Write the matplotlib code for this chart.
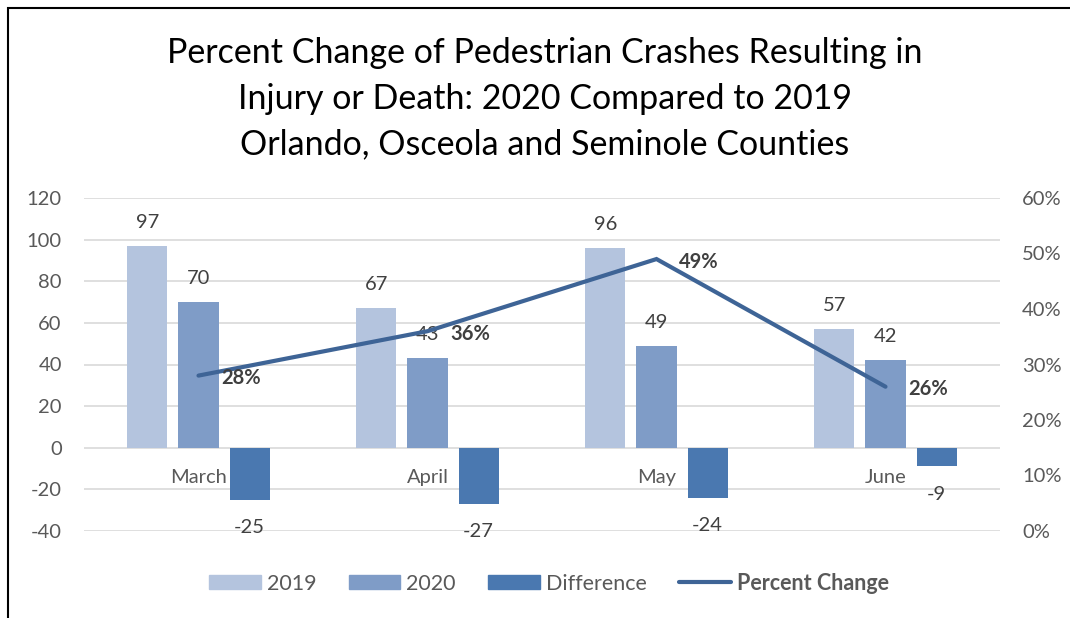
import matplotlib
matplotlib.use("Agg")
import matplotlib.pyplot as plt
from matplotlib.patches import Rectangle
from matplotlib.lines import Line2D
from matplotlib.ticker import FuncFormatter
import numpy as np

months = ["March", "April", "May", "June"]
v2019 = [97, 67, 96, 57]
v2020 = [70, 43, 49, 42]
diff = [-25, -27, -24, -9]
pct_change = [0.28, 0.36, 0.49, 0.26]
left_ticks = [-40, -20, 0, 20, 40, 60, 80, 100, 120]
right_ticks = [0.0, 0.1, 0.2, 0.3, 0.4, 0.5, 0.6]
series_names = ["2019", "2020", "Difference", "Percent Change"]

c2019 = "#B4C4DE"
c2020 = "#7F9CC7"
cdiff = "#4A78B0"
cline = "#3E6496"
gray = "#595959"
FONT = "Lato"

plt.rcParams["font.family"] = [FONT, "DejaVu Sans"]
plt.rcParams["axes.unicode_minus"] = False

fig = plt.figure(figsize=(10.7, 6.18), dpi=100)
ax = fig.add_axes([84/1070, 1-531/618, (1000-84)/1070, (531-198)/618])
ax2 = ax.twinx()

FS = 14.5
x = np.arange(len(months))
bw = 0.175
step = 0.223
series = [(v2019, c2019), (v2020, c2020), (diff, cdiff)]
for i, (vals, col) in enumerate(series):
    xs = x + (i-1)*step
    ax.bar(xs, vals, width=bw, color=col, zorder=2)
    for xi, v in zip(xs, vals):
        off = 17 if v >= 0 else -20
        ax.annotate(f"{v}", (xi, v), xytext=(0, off), textcoords="offset points",
                    ha="center", va="center", fontsize=FS, color="#404040")

ax.set_xlim(-0.5, len(months)-0.5)
ax.set_ylim(-40, 120)
ax.set_yticks(left_ticks)
ax.grid(axis="y", color="#D9D9D9", linewidth=1.2, zorder=0)
ax.set_axisbelow(True)
for s in ax.spines.values():
    s.set_visible(False)
for s in ax2.spines.values():
    s.set_visible(False)
ax.tick_params(axis="y", length=0, pad=16, labelsize=FS, labelcolor=gray)
ax.spines["bottom"].set_position(("data", 0))
ax.set_xticks(x)
ax.set_xticklabels(months)
ax.tick_params(axis="x", length=0, pad=15, labelsize=FS, labelcolor=gray)

ax2.set_ylim(0, 0.6)
ax2.set_yticks(right_ticks)
ax2.yaxis.set_major_formatter(FuncFormatter(lambda v, p: f"{v*100:.0f}%"))
ax2.tick_params(axis="y", length=0, pad=16, labelsize=FS, labelcolor=gray)
ax2.plot(x, pct_change, color=cline, linewidth=3, solid_capstyle="round",
         solid_joinstyle="miter", zorder=3)
for xi, v in zip(x, pct_change):
    ax2.annotate(f"{v*100:.0f}%", (xi, v), xytext=(16.5, -2), textcoords="offset points",
                 ha="left", va="center", fontsize=FS, fontweight="bold", color="#404040")

fig.text(0.5093, 1-99/618, "Percent Change of Pedestrian Crashes Resulting in\n"
         "Injury or Death: 2020 Compared to 2019\n"
         "Orlando, Osceola and Seminole Counties",
         ha="center", va="center", fontsize=24.5, color="black", linespacing=1.52)

handles = [Rectangle((0, 0), 1, 1, color=c2019), Rectangle((0, 0), 1, 1, color=c2020),
           Rectangle((0, 0), 1, 1, color=cdiff),
           Line2D([0], [0], color=cline, linewidth=3, solid_capstyle="round")]
leg = fig.legend(handles, series_names, loc="center", bbox_to_anchor=(549/1070, 1-583/618),
                 ncol=4, frameon=False, fontsize=15.5, handlelength=2.4, handleheight=0.6,
                 handletextpad=0.28, columnspacing=1.5)
for t in leg.get_texts():
    t.set_color(gray)
leg.get_texts()[3].set_fontweight("bold")

fig.patches.append(Rectangle((8/1070, -0.1), 2, 1.1 - 8/618, transform=fig.transFigure,
                             fill=False, edgecolor="black", linewidth=1.5))

fig.savefig("out.png", dpi=100)
